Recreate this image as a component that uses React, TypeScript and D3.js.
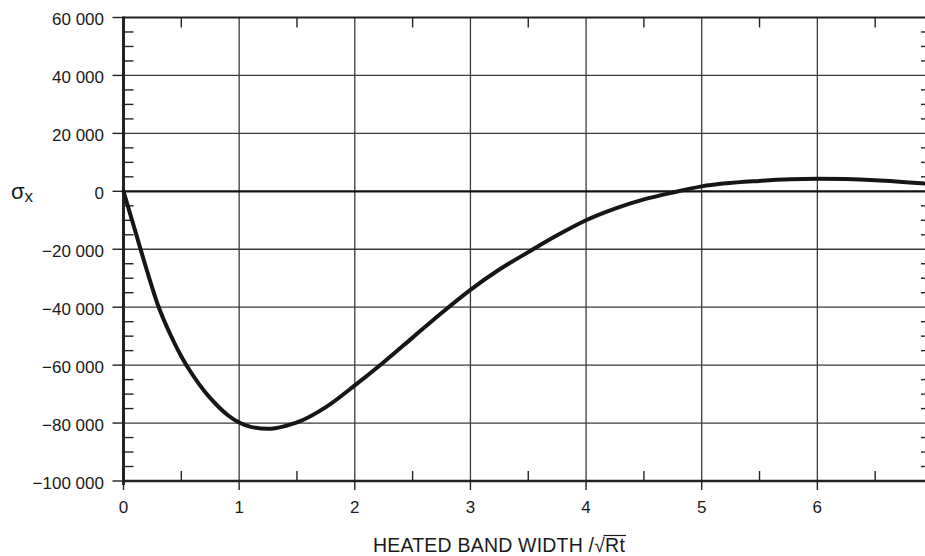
import React, { useEffect, useRef, useState } from "react";
import * as d3 from "d3";

// Heated band width (x, in units of sqrt(Rt)) and axial stress sigma_x
const bandWidth = [0, 0.1, 0.2, 0.3, 0.4, 0.5, 0.6, 0.7, 0.8, 0.9, 1.0, 1.1, 1.25, 1.4, 1.5, 1.75, 2.0, 2.25, 2.5, 2.75, 3.0, 3.25, 3.5, 3.75, 4.0, 4.25, 4.5, 4.75, 5.0, 5.5, 6.0, 6.5, 6.95];
const sigmaX = [0, -13500, -27000, -39500, -49000, -57000, -63500, -69000, -73500, -77200, -79800, -81300, -82000, -81000, -79800, -74500, -67000, -59000, -50500, -42000, -34000, -27000, -21000, -15200, -10000, -6000, -2800, -400, 1700, 3600, 4300, 3800, 2600];

const xTicks = [0, 1, 2, 3, 4, 5, 6];
const xMinorTicks = [0.5, 1.5, 2.5, 3.5, 4.5, 5.5, 6.5];
const yTicks = [60000, 40000, 20000, 0, -20000, -40000, -60000, -80000, -100000];
const yMinorTicks = d3.range(-100000, 60001, 5000).filter((v) => v % 20000 !== 0);

const W = 925;
const H = 556;
const FONT = "'Liberation Sans', Arial, Helvetica, sans-serif";

export default function App() {
  const x = d3.scaleLinear().domain([0, 7]).range([123.5, 933]);
  const y = d3.scaleLinear().domain([-100000, 60000]).range([481, 17.5]);
  const x0 = x(0);
  const xR = x(7);
  const yTop = y(60000);
  const yBot = y(-100000);

  const fmt = (v: number) => d3.format(",")(v).replace(/,/g, " ");

  const line = d3
    .line<number>()
    .x((_, i) => x(bandWidth[i]))
    .y((d) => y(d))
    .curve(d3.curveMonotoneX);

  const textRef = useRef<SVGTextElement>(null);
  const [over, setOver] = useState<{ x1: number; x2: number } | null>(null);
  useEffect(() => {
    const t = textRef.current;
    if (!t) return;
    const s = t.textContent || "";
    const idx = s.indexOf("\u221A");
    try {
      const endPos = t.getEndPositionOfChar(s.length - 1);
      const sqEnd = t.getEndPositionOfChar(idx);
      setOver({ x1: sqEnd.x - 1.5, x2: endPos.x + 1 });
    } catch (e) {
      // ignore
    }
  }, []);

  const gridColor = "#3a3a3a";

  return (
    <svg width={W} height={H} style={{ position: "absolute", left: 0, top: 0, background: "#fff" }} fontFamily={FONT}>
      <rect x={0} y={0} width={W} height={H} fill="#fff" />
      {/* vertical grid lines */}
      {xTicks.filter((t) => t > 0).map((t) => (
        <line key={"vg" + t} x1={x(t)} x2={x(t)} y1={yTop} y2={yBot} stroke={gridColor} strokeWidth={1.3} />
      ))}
      {/* horizontal grid lines */}
      {yTicks.filter((t) => t !== 60000 && t !== -100000 && t !== 0).map((t) => (
        <line key={"hg" + t} x1={x0} x2={xR} y1={y(t)} y2={y(t)} stroke={gridColor} strokeWidth={1.3} />
      ))}
      {/* zero line */}
      <line x1={x0} x2={xR} y1={y(0)} y2={y(0)} stroke="#111" strokeWidth={2.2} />
      {/* frame */}
      <line x1={x0} x2={xR} y1={yTop} y2={yTop} stroke="#222" strokeWidth={2.2} />
      <line x1={x0} x2={xR} y1={yBot} y2={yBot} stroke="#222" strokeWidth={2.6} />
      <line x1={x0} x2={x0} y1={yTop - 1} y2={yBot + 4} stroke="#222" strokeWidth={3} />
      <line x1={xR} x2={xR} y1={yTop} y2={yBot} stroke="#222" strokeWidth={2.6} />
      {/* x minor ticks (top pointing down, bottom pointing up) */}
      {xMinorTicks.map((t) => (
        <g key={"xm" + t}>
          <line x1={x(t)} x2={x(t)} y1={yTop} y2={yTop + 10} stroke="#222" strokeWidth={1.4} />
          <line x1={x(t)} x2={x(t)} y1={yBot} y2={yBot - 10} stroke="#222" strokeWidth={1.4} />
        </g>
      ))}
      {/* x major ticks below axis */}
      {xTicks.map((t) => (
        <line key={"xM" + t} x1={x(t)} x2={x(t)} y1={yBot} y2={yBot + 9} stroke="#222" strokeWidth={1.4} />
      ))}
      {/* y minor ticks */}
      {yMinorTicks.map((t) => (
        <g key={"ym" + t}>
          <line x1={x0} x2={x0 + 10} y1={y(t)} y2={y(t)} stroke="#222" strokeWidth={1.4} />
          <line x1={xR} x2={xR - 12} y1={y(t)} y2={y(t)} stroke="#222" strokeWidth={1.4} />
        </g>
      ))}
      {/* y major ticks left of axis */}
      {yTicks.map((t) => (
        <line key={"yM" + t} x1={x0 - 11} x2={x0} y1={y(t)} y2={y(t)} stroke="#222" strokeWidth={1.4} />
      ))}
      {/* y tick labels */}
      {yTicks.map((t) => (
        <text key={"yl" + t} x={104} y={y(t) + 7.5} textAnchor="end" fontSize={17} fill="#1a1a1a">
          {fmt(t)}
        </text>
      ))}
      {/* x tick labels */}
      {xTicks.map((t) => (
        <text key={"xl" + t} x={x(t)} y={513} textAnchor="middle" fontSize={17} fill="#1a1a1a">
          {t}
        </text>
      ))}
      {/* curve */}
      <path d={line(sigmaX) || ""} fill="none" stroke="#161616" strokeWidth={4} strokeLinejoin="round" strokeLinecap="round" />
      {/* y-axis label */}
      <text x={11} y={199} fontSize={22} fill="#1a1a1a">
        σ<tspan fontSize={17} dy={3}>x</tspan>
      </text>
      {/* x-axis title */}
      <text ref={textRef} x={499} y={551.5} textAnchor="middle" fontSize={19.5} fill="#1a1a1a" letterSpacing={0.2}>
        HEATED BAND WIDTH /√Rt
      </text>
      {over && (
        <line x1={over.x1} x2={over.x2} y1={535.5} y2={535.5} stroke="#1a1a1a" strokeWidth={1.2} />
      )}
    </svg>
  );
}
